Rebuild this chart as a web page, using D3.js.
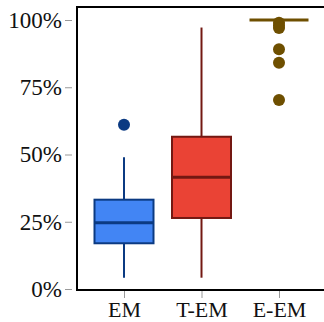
<!DOCTYPE html>
<html>
  <head>
    <style>
      body, html { margin: 0; padding: 0; background: #fff; }
      svg { display: block; }
      text { font-family: "Liberation Serif", serif; fill: #111; }
    </style>
  </head>
  <body>
    <script src="https://cdn.jsdelivr.net/npm/d3@7"></script>
    <script>
      const width = 324;
      const height = 322;

      // data (fractions)
      const categories = ['EM', 'T-EM', 'E-EM'];
      const whiskerLow = [0.042, 0.042, 1.0];
      const q1 = [0.17, 0.264, 1.0];
      const median = [0.246, 0.415, 1.0];
      const q3 = [0.332, 0.566, 1.0];
      const whiskerHigh = [0.49, 0.972, 1.0];
      const outliers = [[0.611], [], [0.99, 0.98, 0.97, 0.891, 0.841, 0.703]];
      const yTicks = [0, 0.25, 0.5, 0.75, 1];

      const fills = ['#4285f4', '#ea4335', '#6e4f00'];
      const strokes = ['#0b3a82', '#731812', '#6e4f00'];

      const svg = d3.select('body').append('svg')
        .attr('width', width).attr('height', height);

      const y = d3.scaleLinear().domain([0, 1]).range([289, 20]);
      const x = d3.scalePoint().domain(categories).range([124, 279]);
      const boxW = 59;

      // frame
      svg.append('path')
        .attr('d', 'M330,7H77V290H330')
        .attr('fill', 'none')
        .attr('stroke', '#000')
        .attr('stroke-width', 2);

      // y axis (ticks offset from the frame)
      const yAxis = svg.append('g').attr('transform', 'translate(72,0)')
        .call(d3.axisLeft(y).tickValues(yTicks).tickSize(7).tickPadding(3)
          .tickFormat(d => Math.round(d * 100) + '%'));
      yAxis.select('.domain').remove();
      yAxis.selectAll('line').attr('stroke', '#999').attr('stroke-width', 1);
      yAxis.selectAll('text').style('font-size', '23px').style('font-family', '"Liberation Serif", serif').attr('fill', '#111');

      const xAxis = svg.append('g').attr('transform', 'translate(0,291)')
        .call(d3.axisBottom(x).tickSize(7).tickPadding(3));
      xAxis.select('.domain').remove();
      xAxis.selectAll('line').attr('stroke', '#999').attr('stroke-width', 1);
      xAxis.selectAll('text').style('font-size', '22px').style('font-family', '"Liberation Serif", serif').attr('fill', '#111');

      categories.forEach((c, i) => {
        const g = svg.append('g');
        const cx = x(c);
        if (q3[i] > q1[i]) {
          g.append('line')
            .attr('x1', cx).attr('x2', cx)
            .attr('y1', y(whiskerLow[i])).attr('y2', y(q1[i]))
            .attr('stroke', strokes[i]).attr('stroke-width', 2);
          g.append('line')
            .attr('x1', cx).attr('x2', cx)
            .attr('y1', y(q3[i])).attr('y2', y(whiskerHigh[i]))
            .attr('stroke', strokes[i]).attr('stroke-width', 2);
          g.append('rect')
            .attr('x', cx - boxW / 2).attr('width', boxW)
            .attr('y', y(q3[i])).attr('height', y(q1[i]) - y(q3[i]))
            .attr('fill', fills[i])
            .attr('stroke', strokes[i]).attr('stroke-width', 2);
          g.append('line')
            .attr('x1', cx - boxW / 2).attr('x2', cx + boxW / 2)
            .attr('y1', y(median[i])).attr('y2', y(median[i]))
            .attr('stroke', strokes[i]).attr('stroke-width', 3);
        } else {
          g.append('line')
            .attr('x1', cx - boxW / 2).attr('x2', cx + boxW / 2)
            .attr('y1', y(median[i])).attr('y2', y(median[i]))
            .attr('stroke', strokes[i]).attr('stroke-width', 3);
        }
        g.selectAll('circle').data(outliers[i]).enter().append('circle')
          .attr('cx', cx).attr('cy', d => y(d)).attr('r', 6)
          .attr('fill', strokes[i]);
      });
    </script>
  </body>
</html>
